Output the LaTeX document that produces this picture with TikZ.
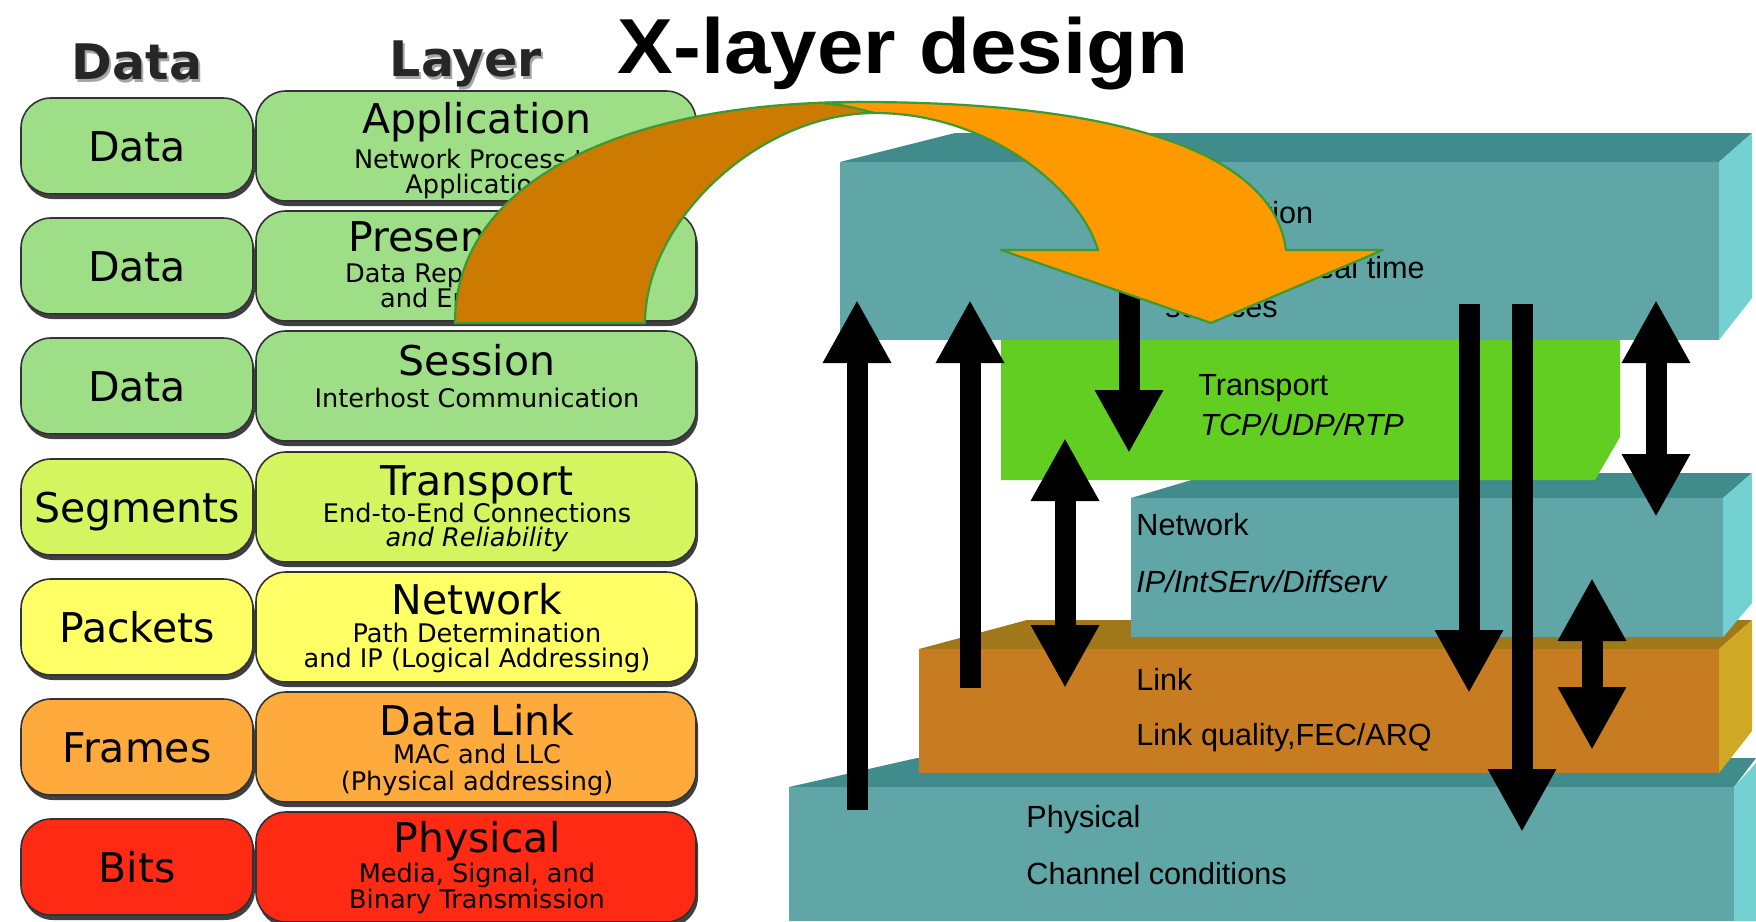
\documentclass[tikz,border=0pt]{standalone}
\usepackage{fontspec}
\setmainfont{DejaVu Sans}
\newfontfamily\slabfont{Liberation Sans}
\newfontfamily\headfont[FakeStretch=1.07]{Liberation Sans Bold}
\usetikzlibrary{arrows.meta,shadows}

\definecolor{osigreen}{RGB}{158,222,134}
\definecolor{osilime}{RGB}{212,245,96}
\definecolor{osiyellow}{RGB}{255,255,102}
\definecolor{osiorange}{RGB}{255,170,60}
\definecolor{osired}{RGB}{255,42,20}
\definecolor{tealfront}{RGB}{96,166,166}
\definecolor{tealtop}{RGB}{64,140,140}
\definecolor{tealside}{RGB}{115,209,209}
\definecolor{transgreen}{RGB}{98,206,34}
\definecolor{linkfront}{RGB}{200,124,34}
\definecolor{linktop}{RGB}{160,120,26}
\definecolor{linkside}{RGB}{207,168,36}
\definecolor{arcbrown}{RGB}{204,122,0}
\definecolor{arcorange}{RGB}{255,153,0}
\definecolor{arcedge}{RGB}{60,154,50}

\tikzset{
  pdu/.style={draw=black!80, line width=0.8pt, rounded corners=15pt,
    minimum width=116pt, minimum height=48pt, text height=15pt, text depth=0pt,
    drop shadow={shadow xshift=1pt, shadow yshift=-2.5pt, fill=black!75, opacity=1},
    font=\fontsize{20.5}{24}\selectfont},
  osilayer/.style={pdu, minimum width=220pt, minimum height=55pt},
  hdr/.style={anchor=base, inner sep=0pt, font=\bfseries\fontsize{24.5}{28}\selectfont},
  ltitle/.style={anchor=base, inner sep=0pt, font=\fontsize{20.5}{24}\selectfont},
  lsub/.style={anchor=base, inner sep=0pt, font=\fontsize{12.8}{15}\selectfont},
  slabtxt/.style={anchor=base west, inner sep=0pt, font=\slabfont\fontsize{15.3}{18}\selectfont},
  xarrow/.style={line width=10.5pt, -{Triangle[width=32pt,length=31.5pt]}},
  xdarrow/.style={line width=10.5pt, {Triangle[width=32pt,length=31.5pt]}-{Triangle[width=32pt,length=31.5pt]}},
  arcline/.style={draw=arcedge, line width=1.1pt, line join=round},
}

\begin{document}
\begin{tikzpicture}[x=0.5pt, y=-0.5pt]
\useasboundingbox (0,0) rectangle (1756,921);

\node[anchor=base, inner sep=0pt, font=\headfont\fontsize{39}{44}\selectfont] (title) at (903,73) {X-layer design};
\node[hdr, text=black!35] (hdatash) at (139,82) {Data};
\node[hdr, text=black!85] (hdata) at (137,79) {Data};
\node[hdr, text=black!35] (hlayersh) at (468,79) {Layer};
\node[hdr, text=black!85] (hlayer) at (466,76) {Layer};

\node[pdu, fill=osigreen] (pdu1) at (137,146) {Data};
\node[pdu, fill=osigreen] (pdu2) at (137,266) {Data};
\node[pdu, fill=osigreen] (pdu3) at (137,386) {Data};
\node[pdu, fill=osilime] (pdu4) at (137,507) {Segments};
\node[pdu, fill=osiyellow] (pdu5) at (137,627) {Packets};
\node[pdu, fill=osiorange] (pdu6) at (137,747) {Frames};
\node[pdu, fill=osired] (pdu7) at (137,867) {Bits};

\node[osilayer, fill=osigreen] (osi1) at (476,146) {};
\node[osilayer, fill=osigreen] (osi2) at (476,266) {};
\node[osilayer, fill=osigreen] (osi3) at (476,386) {};
\node[osilayer, fill=osilime] (osi4) at (476,507) {};
\node[osilayer, fill=osiyellow] (osi5) at (476,627) {};
\node[osilayer, fill=osiorange] (osi6) at (476,747) {};
\node[osilayer, fill=osired] (osi7) at (476,867) {};

\node[ltitle] (osi1t) at (477,133) {Application};
\node[lsub] (osi1a) at (477,168) {Network Process to};
\node[lsub] (osi1b) at (477,193) {Application};
\node[ltitle] (osi2t) at (477,251) {Presentation};
\node[lsub] (osi2a) at (477,282) {Data Representation};
\node[lsub] (osi2b) at (477,307) {and Encryption};
\node[ltitle] (osi3t) at (477,375) {Session};
\node[lsub] (osi3a) at (477,407) {Interhost Communication};
\node[ltitle] (osi4t) at (477,495) {Transport};
\node[lsub] (osi4a) at (477,522) {End-to-End Connections};
\node[lsub, font=\itshape\fontsize{12.8}{15}\selectfont] (osi4b) at (477,546) {and Reliability};
\node[ltitle] (osi5t) at (477,614) {Network};
\node[lsub] (osi5a) at (477,642) {Path Determination};
\node[lsub] (osi5b) at (477,667) {and IP (Logical Addressing)};
\node[ltitle] (osi6t) at (477,735) {Data Link};
\node[lsub] (osi6a) at (477,763) {MAC and LLC};
\node[lsub] (osi6b) at (477,790) {(Physical addressing)};
\node[ltitle] (osi7t) at (477,852) {Physical};
\node[lsub] (osi7a) at (477,882) {Media, Signal, and};
\node[lsub] (osi7b) at (477,908) {Binary Transmission};

\fill[tealtop] (789,787) -- (917,758) -- (1756,758) -- (1734,787) -- cycle;
\fill[tealfront] (789,787) rectangle (1734,921);
\fill[tealside] (1734,787) -- (1756,763) -- (1756,921) -- (1734,921) -- cycle;

\fill[linktop] (919,649) -- (1027,620) -- (1752,620) -- (1719,649) -- cycle;
\fill[linkfront] (919,649) rectangle (1719,773);
\fill[linkside] (1719,649) -- (1752,620) -- (1752,731) -- (1719,773) -- cycle;

\fill[tealtop] (1131,498) -- (1215,473) -- (1752,473) -- (1723,498) -- cycle;
\fill[tealfront] (1131,498) rectangle (1723,637);
\fill[tealside] (1723,498) -- (1752,473) -- (1752,603) -- (1723,637) -- cycle;

\fill[transgreen] (1001,340) -- (1620,340) -- (1620,437) -- (1595,480) -- (1001,480) -- cycle;

\fill[tealtop] (840,162) -- (955,133) -- (1752,133) -- (1719,162) -- cycle;
\fill[tealfront] (840,162) rectangle (1719,340);
\fill[tealside] (1719,162) -- (1752,133) -- (1752,298) -- (1719,340) -- cycle;

\node[slabtxt] (app1) at (1163,223) {Application};
\node[slabtxt, anchor=base east] (app2) at (1425,278) {Supports real time};
\node[slabtxt] (app3) at (1165,317) {services};
\node[slabtxt] (trn1) at (1198,395) {Transport};
\node[slabtxt, font=\slabfont\itshape\fontsize{15.3}{18}\selectfont] (trn2) at (1200,435) {TCP/UDP/RTP};
\node[slabtxt] (net1) at (1136,535) {Network};
\node[slabtxt, font=\slabfont\itshape\fontsize{15.3}{18}\selectfont] (net2) at (1136,592) {IP/IntSErv/Diffserv};
\node[slabtxt] (lnk1) at (1136,690) {Link};
\node[slabtxt] (lnk2) at (1136,745) {Link quality,FEC/ARQ};
\node[slabtxt] (phy1) at (1026,827) {Physical};
\node[slabtxt] (phy2) at (1026,884) {Channel conditions};

\coordinate (up1s) at (857,810);  \coordinate (up1e) at (857,300);
\coordinate (up2s) at (970,688);  \coordinate (up2e) at (970,300);
\coordinate (dn3s) at (1129,285); \coordinate (dn3e) at (1129,453);
\coordinate (bi4s) at (1065,438); \coordinate (bi4e) at (1065,688);
\coordinate (dn5s) at (1469,304); \coordinate (dn5e) at (1469,693);
\coordinate (dn6s) at (1522,304); \coordinate (dn6e) at (1522,832);
\coordinate (bi7s) at (1656,300); \coordinate (bi7e) at (1656,517);
\coordinate (bi8s) at (1592,578); \coordinate (bi8e) at (1592,750);
\draw[xarrow] (up1s) -- (up1e);
\draw[xarrow] (up2s) -- (up2e);
\draw[xarrow] (dn3s) -- (dn3e);
\draw[xdarrow] (bi4s) -- (bi4e);
\draw[xarrow] (dn5s) -- (dn5e);
\draw[xarrow] (dn6s) -- (dn6e);
\draw[xdarrow] (bi7s) -- (bi7e);
\draw[xdarrow] (bi8s) -- (bi8e);

\draw[arcline, fill=arcbrown] (455,323) .. controls (455,183) and (620,102) .. (860,102)
  -- (875,113) .. controls (760,113) and (645,220) .. (645,323) -- cycle;
\draw[arcline, fill=arcorange] (820,103) -- (860,102) .. controls (1140,102) and (1275,160) .. (1286,250)
  -- (1383,250) -- (1211,323) -- (1001,250) -- (1098,250)
  .. controls (1080,190) and (990,113) .. (875,113) .. controls (855,108) and (840,104) .. (820,103) -- cycle;
\end{tikzpicture}
\end{document}
